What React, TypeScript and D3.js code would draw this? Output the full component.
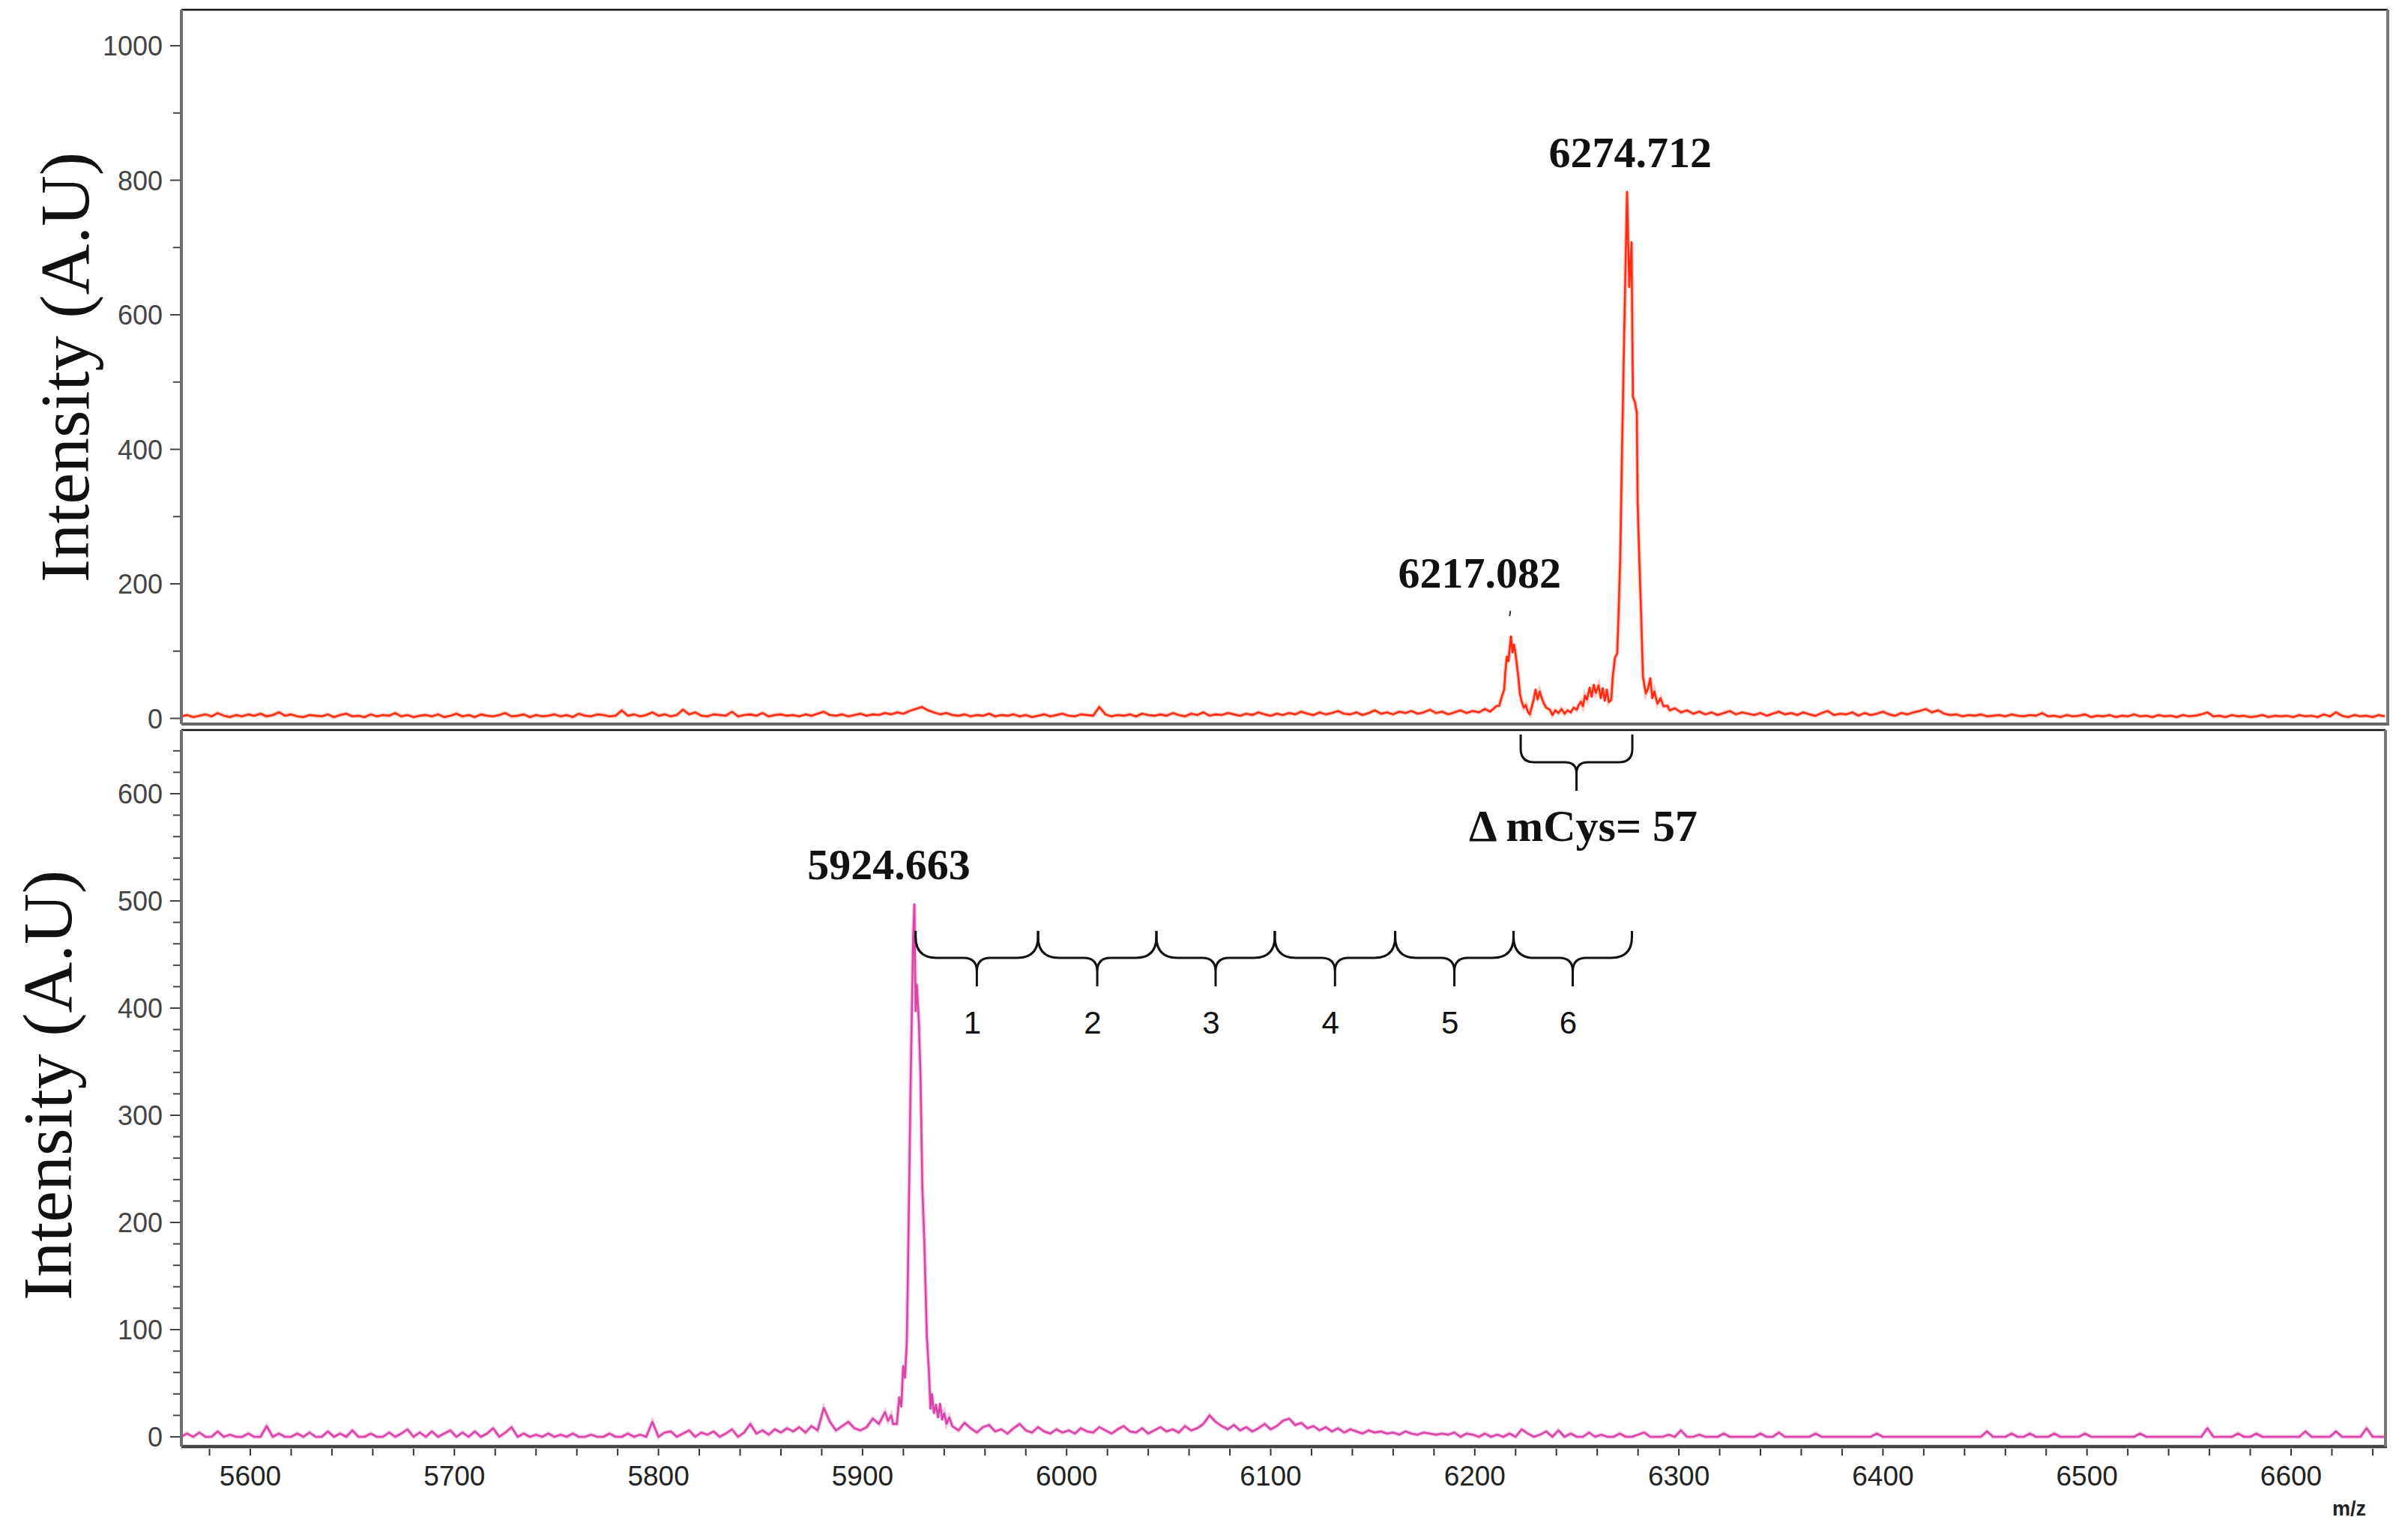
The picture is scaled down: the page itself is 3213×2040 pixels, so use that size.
import React from 'react';
import * as d3 from 'd3';

// ---------------- DATA ----------------
const mzLabels = [5600, 5700, 5800, 5900, 6000, 6100, 6200, 6300, 6400, 6500, 6600];
const topYTicks = [0, 200, 400, 600, 800, 1000];
const botYTicks = [0, 100, 200, 300, 400, 500, 600];

// Top spectrum (red): baseline noise sampled every 3 m/z
const topNoiseStartA = 5566;
const topNoiseA = [
  3, 5, 2, 4, 6, 3, 8, 4, 2, 5, 3, 6, 4, 7, 3, 5, 9, 4, 6, 3,
  2, 5, 4, 3, 6, 2, 5, 7, 3, 4, 2, 6, 3, 5, 4, 8, 3, 5, 2, 4,
  5, 3, 6, 2, 4, 7, 3, 5, 2, 6, 4, 3, 5, 8, 3, 4, 6, 2, 5, 3,
  4, 6, 3, 5, 2, 7, 4, 3, 6, 5, 3, 4, 12, 4, 6, 3, 5, 9, 4, 6,
  3, 5, 13, 6, 9, 4, 3, 6, 5, 4, 10, 3, 5, 6, 4, 8, 3, 5, 6, 4,
  5, 3, 6, 4, 7, 10, 5, 4, 6, 3, 5, 7, 4, 6, 5, 8, 6, 9, 7, 11,
  14, 17, 12, 9, 6, 8, 5, 4, 6, 3, 5, 4, 7, 3, 5, 4, 6, 3, 5, 2,
  4, 6, 3, 5, 7, 4, 3, 6, 5, 4, 17, 6, 3, 5, 4, 6, 3, 7, 5, 4,
  6, 4, 8, 5, 3, 7, 5, 9, 4, 6, 5, 8, 6, 4, 7, 5, 9, 6, 4, 7,
  5, 8, 6, 10, 7, 5, 9, 6, 8, 11, 7, 6, 9, 5, 8, 12, 7, 9, 6, 10,
  8, 11, 7, 9, 13, 8, 10, 6, 9, 12, 8, 11, 9, 14,
];
const topPeakMz = [
  6207.5, 6209, 6210.5, 6212, 6213, 6214.4, 6215, 6215.7, 6216.5, 6217.7, 6218.5, 6219.2, 6220, 6220.6,
  6221.4, 6222.1, 6223, 6224, 6225, 6226, 6227, 6228, 6229, 6229.8, 6230.8, 6231.8, 6232.8, 6233.9,
  6235, 6236.8, 6238, 6239.5, 6241, 6242.5, 6244, 6245.5, 6247, 6248.5, 6250, 6250.8, 6252, 6253,
  6254, 6255, 6256.3, 6257.3, 6258.3, 6259.3, 6260.7, 6261.7, 6262.7, 6263.7, 6264.7, 6265.7, 6266.9,
  6267.6, 6268.7, 6269.8, 6270.5, 6271.3, 6272.1, 6273.2, 6274.6, 6275.7, 6276.8, 6277.5, 6278.5,
  6279.4, 6279.8, 6280.5, 6281.6, 6282.4, 6283.8, 6285, 6286, 6287, 6288, 6289.5, 6291, 6292.5, 6294.4, 6295.5,
];
const topPeakI = [
  10, 14, 18, 19, 30, 43, 70, 92, 85, 122, 98, 110, 95, 80,
  60, 37, 25, 16, 20, 10, 6, 18, 30, 43, 28, 40, 30, 22,
  16, 13, 5, 12, 8, 14, 7, 12, 9, 16, 13, 19, 25, 18,
  34, 28, 46, 32, 50, 38, 49, 30, 45, 26, 43, 24, 28,
  62, 90, 97, 160, 242, 390, 569, 783, 641, 708, 478, 470,
  454, 321, 249, 146, 62, 37, 45, 60, 30, 40, 22, 30, 18, 19, 12,
];
const topNoiseStartB = 6298;
const topNoiseB = [
  15, 9, 12, 7, 10, 6, 9, 5, 8, 11, 6, 9, 7, 5, 8, 4, 7, 10, 6, 8,
  5, 9, 6, 4, 8, 11, 5, 7, 6, 9, 4, 8, 5, 7, 10, 6, 4, 8, 6, 9,
  11, 14, 9, 12, 7, 5, 6, 3, 5, 4, 6, 3, 4, 5, 3, 6, 4, 3, 5, 4,
  8, 3, 4, 2, 5, 3, 4, 6, 2, 4, 3, 5, 2, 4, 3, 6, 3, 4, 2, 5,
  3, 4, 2, 5, 3, 4, 6, 9, 3, 4, 2, 5, 3, 4, 2, 3, 5, 2, 4, 3,
  4, 2, 5, 3, 4, 2, 6, 3, 9, 4, 2, 5, 3, 4, 2, 5, 3,
];

// Bottom spectrum (magenta)
const botNoiseStartA = 5566;
const botNoiseA = [
  0, 3, 0, 4, 0, 0, 5, 0, 2, 0, 0, 3, 0, 0, 10, 0, 3, 0, 0, 3,
  0, 4, 0, 0, 5, 0, 3, 0, 6, 0, 0, 3, 0, 0, 4, 0, 3, 7, 0, 4,
  0, 5, 0, 3, 6, 0, 4, 0, 5, 0, 3, 8, 0, 4, 9, 0, 3, 0, 2, 0,
  3, 0, 2, 0, 3, 0, 0, 2, 0, 0, 3, 0, 0, 3, 0, 2, 0, 14, 0, 4,
  5, 0, 3, 6, 0, 4, 2, 5, 0, 3, 7, 0, 4, 12, 3, 6, 2, 7, 4, 8,
  5, 9, 4, 10, 6, 27, 14, 6, 10, 14, 8, 6, 9, 17, 12, 23,
];
const botPeakMz = [
  5912.5, 5914, 5915, 5916.8, 5918, 5919, 5919.9, 5920.8, 5921.7, 5922.2, 5922.7, 5923.5, 5924.2,
  5924.8, 5925.4, 5926, 5926.6, 5927.6, 5928.4, 5929.3, 5930.3, 5931.5, 5932.5, 5933.3, 5934,
  5935, 5936, 5937, 5938, 5939, 5940, 5941.2, 5942.5,
];
const botPeakI = [
  15, 20, 12, 12, 37, 28, 66, 55, 90, 150, 215, 322, 400,
  465, 497, 397, 422, 387, 336, 233, 180, 94, 62, 26, 40,
  22, 30, 18, 31, 16, 22, 12, 18,
];
const botNoiseStartB = 5944;
const botNoiseB = [
  10, 6, 13, 8, 4, 9, 11, 5, 7, 3, 8, 12, 6, 4, 9, 5, 3, 7, 4, 6,
  3, 8, 5, 4, 9, 6, 3, 7, 10, 5, 4, 8, 3, 6, 9, 5, 7, 4, 10, 6,
  8, 12, 20, 14, 10, 7, 11, 6, 9, 5, 8, 12, 7, 10, 15, 17, 11, 13, 8, 10,
  6, 9, 5, 8, 4, 7, 5, 3, 6, 4, 5, 3, 4, 2, 5, 3, 2, 4, 3, 2,
  3, 2, 4, 0, 3, 2, 0, 3, 0, 2, 0, 3, 0, 7, 3, 0, 2, 5, 0, 6,
  0, 3, 0, 0, 4, 0, 2, 0, 0, 3, 0, 0, 2, 4, 0, 0, 0, 2, 0, 6,
  0, 0, 2, 0, 0, 0, 3, 0, 0, 0, 0, 0, 3, 0, 0, 4, 0, 0, 0, 0,
  0, 3, 0, 0, 0, 0, 0, 0, 0, 0, 0, 3, 0, 0, 0, 0, 0, 0, 0, 0,
  0, 0, 0, 0, 0, 0, 0, 0, 0, 5, 0, 0, 0, 3, 0, 0, 3, 0, 0, 0,
  3, 0, 0, 0, 0, 3, 0, 0, 0, 0, 0, 0, 0, 0, 3, 0, 0, 0, 0, 0,
  0, 0, 0, 0, 0, 8, 0, 0, 0, 0, 3, 0, 0, 3, 0, 0, 0, 0, 0, 0,
  0, 5, 0, 0, 0, 0, 5, 0, 0, 0, 0, 8, 0, 0, 0,
];
const gridStep = 3;

// Annotations
const topPeakLabels = [
  { mz: 6274.712, text: '6274.712' },
  { mz: 6217.082, text: '6217.082' },
];
const botPeakLabel = { mz: 5924.663, text: '5924.663' };
const cysBraceBounds = [5926, 5986, 6044, 6102, 6161, 6219, 6277];
const cysBraceLabels = ['1', '2', '3', '4', '5', '6'];
const deltaBraceBounds = [6222.5, 6277.2];
const deltaLabel = 'Δ mCys= 57';

// ---------------- HELPERS ----------------
type Pt = [number, number];
const grid = (start: number, vals: number[]): Pt[] => vals.map((v, i) => [start + i * gridStep, v]);
const pairs = (mz: number[], iv: number[]): Pt[] => mz.map((m, i) => [m, iv[i]]);

function bracePath(x0: number, x1: number, y0: number, y1: number, y2: number, rE: number, rM: number) {
  const xc = (x0 + x1) / 2;
  return `M${x0},${y0} L${x0},${y1 - rE} Q${x0},${y1} ${x0 + rE},${y1} L${xc - rM},${y1} Q${xc},${y1} ${xc},${y1 + rM} L${xc},${y2} M${xc},${y1 + rM} Q${xc},${y1} ${xc + rM},${y1} L${x1 - rE},${y1} Q${x1},${y1} ${x1},${y1 - rE} L${x1},${y0}`;
}

export default function App() {
  const W = 3213, H = 2040;
  const L = 242, Rt = 3186, Rb = 3183;
  const topT = 13, topB = 966, botT = 974, botB = 1930;

  const x = d3.scaleLinear().domain([5600, 6600]).range([334, 3057]);
  const yTop = d3.scaleLinear().domain([0, 1000]).range([958.5, 61]);
  const yBot = d3.scaleLinear().domain([0, 600]).range([1917, 1059]);

  const topSeries = [...grid(topNoiseStartA, topNoiseA), ...pairs(topPeakMz, topPeakI), ...grid(topNoiseStartB, topNoiseB)];
  const botSeries = [...grid(botNoiseStartA, botNoiseA), ...pairs(botPeakMz, botPeakI), ...grid(botNoiseStartB, botNoiseB)];

  const lineTop = d3.line<Pt>().x(d => x(d[0])).y(d => yTop(d[1]));
  const lineBot = d3.line<Pt>().x(d => x(d[0])).y(d => yBot(d[1]));

  const topMinor = d3.range(100, 1000, 200);
  const botMinor = d3.range(0, 660, 20).filter(v => v % 100 !== 0);
  const xTicks = d3.range(5580, 6641, 20);

  const sans = 'Liberation Sans, Arial, sans-serif';
  const serif = 'Liberation Serif, Times New Roman, serif';

  return (
    <svg width={W} height={H} style={{ position: 'absolute', left: 0, top: 0, display: 'block', background: '#fff' }}>
      <defs>
        <clipPath id="clipTop"><rect x={L} y={topT} width={Rt - L} height={topB - topT} /></clipPath>
        <clipPath id="clipBot"><rect x={L} y={botT} width={Rb - L} height={botB - botT} /></clipPath>
      </defs>
      <rect x={0} y={0} width={W} height={H} fill="#fff" />

      {/* spectra */}
      <g clipPath="url(#clipTop)">
        <path d={lineTop(topSeries) || ''} fill="none" stroke="#ff8a70" strokeWidth={5.5} strokeOpacity={0.45} />
        <path d={lineTop(topSeries) || ''} fill="none" stroke="#ff2a12" strokeWidth={2.6} strokeLinejoin="round" />
      </g>
      <g clipPath="url(#clipBot)">
        <path d={lineBot(botSeries) || ''} fill="none" stroke="#eb92cc" strokeWidth={5.5} strokeOpacity={0.5} />
        <path d={lineBot(botSeries) || ''} fill="none" stroke="#d944a6" strokeWidth={2.6} strokeLinejoin="round" />
      </g>

      {/* frames: top panel */}
      <line x1={L} x2={Rt} y1={topT} y2={topT} stroke="#111" strokeWidth={2.5} />
      <line x1={L} x2={Rt + 2} y1={topB} y2={topB} stroke="#666" strokeWidth={4} />
      <line x1={L} x2={L} y1={topT} y2={topB} stroke="#6e6e6e" strokeWidth={4} />
      <line x1={Rt} x2={Rt} y1={topT} y2={topB} stroke="#777" strokeWidth={4} />
      {/* frames: bottom panel */}
      <line x1={L} x2={Rb} y1={botT} y2={botT} stroke="#111" strokeWidth={2.5} />
      <line x1={L} x2={Rb + 2} y1={botB} y2={botB} stroke="#444" strokeWidth={4.5} />
      <line x1={L} x2={L} y1={botT} y2={botB} stroke="#6e6e6e" strokeWidth={4} />
      <line x1={Rb} x2={Rb} y1={botT} y2={botB} stroke="#777" strokeWidth={4} />

      {/* top y axis */}
      {topYTicks.map(v => (
        <g key={'ty' + v}>
          <line x1={227} x2={240} y1={yTop(v)} y2={yTop(v)} stroke="#444" strokeWidth={2} />
          <text x={217} y={yTop(v) + 13} textAnchor="end" fontFamily={sans} fontSize={36} fill="#444">{v}</text>
        </g>
      ))}
      {topMinor.map(v => (
        <line key={'tm' + v} x1={231} x2={240} y1={yTop(v)} y2={yTop(v)} stroke="#444" strokeWidth={2} />
      ))}

      {/* bottom y axis */}
      {botYTicks.map(v => (
        <g key={'by' + v}>
          <line x1={227} x2={240} y1={yBot(v)} y2={yBot(v)} stroke="#444" strokeWidth={2} />
          <text x={217} y={yBot(v) + 13} textAnchor="end" fontFamily={sans} fontSize={36} fill="#444">{v}</text>
        </g>
      ))}
      {botMinor.map(v => (
        <line key={'bm' + v} x1={231} x2={240} y1={yBot(v)} y2={yBot(v)} stroke="#444" strokeWidth={2} />
      ))}

      {/* x axis */}
      {xTicks.map(v => (
        <line key={'xt' + v} x1={x(v)} x2={x(v)} y1={1933} y2={1942} stroke="#333" strokeWidth={2} />
      ))}
      {mzLabels.map(v => (
        <text key={'xl' + v} x={x(v)} y={1982} textAnchor="middle" fontFamily={sans} fontSize={37} fill="#222">{v}</text>
      ))}
      <text x={3112} y={2022} fontFamily={sans} fontSize={27} fontWeight="bold" fill="#222">m/z</text>

      {/* y axis titles */}
      <text transform="translate(118,490) rotate(-90)" textAnchor="middle" fontFamily={serif} fontSize={94} fill="#111">Intensity (A.U)</text>
      <text transform="translate(95,1448) rotate(-90)" textAnchor="middle" fontFamily={serif} fontSize={94} fill="#111">Intensity (A.U)</text>

      {/* peak labels */}
      <text x={x(topPeakLabels[0].mz) + 4} y={223} textAnchor="middle" fontFamily={serif} fontWeight="bold" fontSize={58} fill="#111">{topPeakLabels[0].text}</text>
      <text x={x(topPeakLabels[1].mz) - 40} y={784} textAnchor="middle" fontFamily={serif} fontWeight="bold" fontSize={58} fill="#111">{topPeakLabels[1].text}</text>
      <line x1={x(topPeakLabels[1].mz) + 1} x2={x(topPeakLabels[1].mz)} y1={815} y2={822} stroke="#333" strokeWidth={2} />
      <text x={x(botPeakLabel.mz) - 32} y={1173} textAnchor="middle" fontFamily={serif} fontWeight="bold" fontSize={58} fill="#111">{botPeakLabel.text}</text>

      {/* delta brace */}
      <path d={bracePath(x(deltaBraceBounds[0]), x(deltaBraceBounds[1]), 980, 1017, 1055, 18, 15)} fill="none" stroke="#111" strokeWidth={3} />
      <text x={(x(deltaBraceBounds[0]) + x(deltaBraceBounds[1])) / 2 + 9} y={1122} textAnchor="middle" fontFamily={serif} fontWeight="bold" fontSize={60} fill="#111">{deltaLabel}</text>

      {/* cysteine braces */}
      {cysBraceLabels.map((lab, i) => {
        const x0 = x(cysBraceBounds[i]);
        const x1 = x(cysBraceBounds[i + 1]);
        return (
          <g key={'br' + i}>
            <path d={bracePath(x0, x1, 1242, 1278, 1316, 28, 18)} fill="none" stroke="#111" strokeWidth={3} />
            <text x={(x0 + x1) / 2 - 6} y={1379} textAnchor="middle" fontFamily={sans} fontSize={42} fill="#111">{lab}</text>
          </g>
        );
      })}
    </svg>
  );
}
